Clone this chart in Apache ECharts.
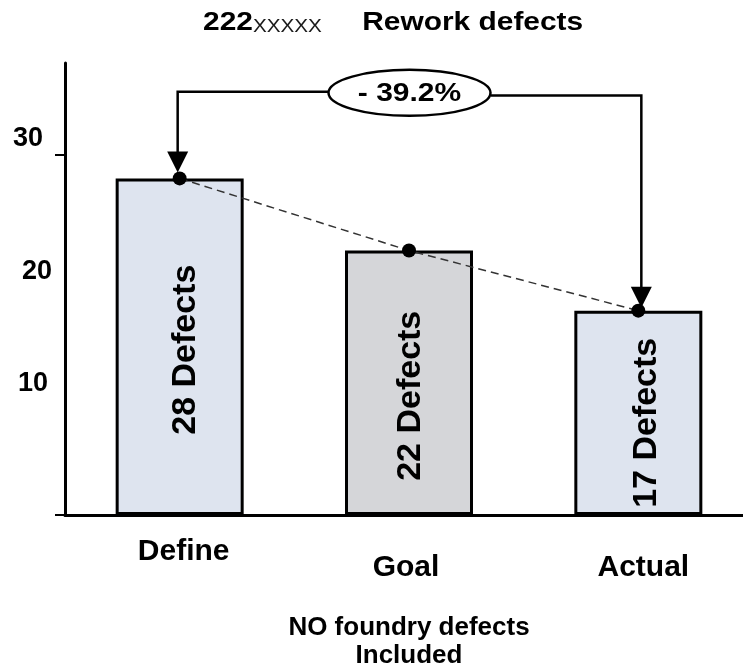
<!DOCTYPE html>
<html>
<head>
<meta charset="utf-8">
<script src="https://cdn.jsdelivr.net/npm/echarts@6/dist/echarts.min.js"></script>
<style>
  html, body { margin: 0; padding: 0; background: #fff; }
  #chart { width: 743px; height: 671px; }
</style>
</head>
<body>
<div id="chart"></div>
<script>
// Rework defects: baseline (Define), target (Goal) and result (Actual)
const categories = ['Define', 'Goal', 'Actual'];
const defects = [28, 22, 17];
const yTickLabels = [10, 20, 30];
const titleCode = '222';
const titleMask = 'XXXXX';
const titleText = 'Rework defects';
const footnote = 'NO foundry defects\nIncluded';

const FONT = '"Liberation Sans", Arial, sans-serif';
const fills = ['#dee4ef', '#d5d6d9', '#dee4ef'];
// rotated-label nudges: [along the text, across the text]
const labelOffsets = [[-3, 6], [-13, 2], [-10, 8]];

const chart = echarts.init(document.getElementById('chart'), null, { renderer: 'canvas' });

const option = {
  backgroundColor: '#ffffff',
  animation: false,
  grid: { left: 65, width: 688, top: 63, bottom: 156, outerBoundsMode: 'none', containLabel: false },
  xAxis: {
    type: 'category',
    data: categories,
    axisLine: { lineStyle: { color: '#000', width: 3 } },
    axisTick: { show: false },
    axisLabel: {
      interval: 0,
      hideOverlap: false,
      margin: 53,
      verticalAlign: 'middle',
      fontFamily: FONT,
      fontSize: 30,
      fontWeight: 'bold',
      color: '#000',
      formatter: v => '{' + v + '|' + v + '}',
      rich: {
        Define: { fontFamily: FONT, fontSize: 30, fontWeight: 'bold', color: '#000', padding: [0, 0, 32, 8] },
        Goal: { fontFamily: FONT, fontSize: 30, fontWeight: 'bold', color: '#000', padding: [0, 6, 0, 0] },
        Actual: { fontFamily: FONT, fontSize: 30, fontWeight: 'bold', color: '#000', padding: [0, 0, 0, 10] }
      }
    },
    name: footnote,
    nameLocation: 'middle',
    nameGap: 99,
    nameTextStyle: {
      fontFamily: FONT, fontSize: 26, fontWeight: 'bold', color: '#000',
      lineHeight: 28, align: 'center', verticalAlign: 'top'
    }
  },
  yAxis: {
    type: 'value',
    min: 0,
    max: 37.6,
    interval: 10,
    splitLine: { show: false },
    axisLine: { show: true, lineStyle: { color: '#000', width: 3 } },
    axisTick: { show: true, customValues: [0, 30], length: 10, lineStyle: { color: '#000', width: 2 } },
    axisLabel: {
      customValues: yTickLabels,
      margin: 13,
      verticalAlign: 'middle',
      fontFamily: FONT, fontSize: 27, fontWeight: 'bold', color: '#000',
      formatter: v => '{t' + v + '|' + v + '}',
      rich: {
        t10: { fontFamily: FONT, fontSize: 27, fontWeight: 'bold', color: '#000', padding: [0, 4, 23, 0] },
        t20: { fontFamily: FONT, fontSize: 27, fontWeight: 'bold', color: '#000', padding: [0, 0, 7, 0] },
        t30: { fontFamily: FONT, fontSize: 27, fontWeight: 'bold', color: '#000', padding: [0, 9, 32, 0] }
      }
    }
  },
  series: [
    {
      type: 'bar',
      barWidth: 128,
      z: 2,
      data: defects.map((v, i) => ({
        value: v,
        itemStyle: { color: fills[i] },
        label: { offset: labelOffsets[i] }
      })),
      itemStyle: { borderColor: '#000', borderWidth: 3 },
      label: {
        show: true,
        position: 'inside',
        rotate: 90,
        formatter: '{c} Defects',
        fontFamily: FONT,
        fontSize: 34,
        fontWeight: 'bold',
        color: '#000'
      }
    },
    {
      type: 'line',
      data: defects,
      z: 4,
      symbol: 'circle',
      symbolSize: 14,
      itemStyle: { color: '#000' },
      lineStyle: { color: '#333', width: 1.5, type: [8, 5] }
    }
  ]
};

chart.setOption(option);

// Bracket from Define down to Actual with the percentage change in an oval
function drawAnnotations() {
  const first = 0, last = defects.length - 1;
  const pStart = chart.convertToPixel({ xAxisIndex: 0, yAxisIndex: 0 }, [first, defects[first]]);
  const pEnd = chart.convertToPixel({ xAxisIndex: 0, yAxisIndex: 0 }, [last, defects[last]]);
  const yLeft = chart.convertToPixel({ yAxisIndex: 0 }, 35.2);
  const yRight = chart.convertToPixel({ yAxisIndex: 0 }, 34.9);
  const xL = pStart[0] - 2, xR = pEnd[0] + 3;
  const tipL = pStart[1] - 6, tipR = pEnd[1] - 3;
  const headH = 21, headW = 21;
  const cx = (xL + xR) / 2, cy = yLeft + 1;
  const rx = 81, ry = 23;
  const change = Math.trunc((defects[last] - defects[first]) / defects[first] * 1000) / 10;
  const changeText = (change < 0 ? '- ' : '+ ') + Math.abs(change).toFixed(1) + '%';
  const line = { stroke: '#000', lineWidth: 2.5, fill: null };

  chart.setOption({
    graphic: [
      {
        type: 'polyline', z: 10,
        shape: { points: [[xL, tipL - headH + 2], [xL, yLeft], [cx - rx, yLeft]] },
        style: line
      },
      {
        type: 'polyline', z: 10,
        shape: { points: [[cx + rx, yRight], [xR, yRight], [xR, tipR - headH + 2]] },
        style: line
      },
      {
        type: 'polygon', z: 10,
        shape: { points: [[xL - headW / 2, tipL - headH], [xL + headW / 2, tipL - headH], [xL, tipL]] },
        style: { fill: '#000' }
      },
      {
        type: 'polygon', z: 10,
        shape: { points: [[xR - headW / 2, tipR - headH], [xR + headW / 2, tipR - headH], [xR, tipR]] },
        style: { fill: '#000' }
      },
      {
        type: 'ellipse', z: 11,
        shape: { cx: cx, cy: cy, rx: rx, ry: ry },
        style: { fill: '#fff', stroke: '#000', lineWidth: 2.5 }
      },
      {
        type: 'text', z: 12,
        x: cx, y: cy + 1,
        scaleX: 1.2,
        style: {
          text: changeText,
          fontFamily: FONT, fontSize: 25, fontWeight: 'bold', fill: '#000',
          align: 'center', verticalAlign: 'middle'
        }
      },
      {
        type: 'text', z: 12,
        x: 203, y: 23,
        scaleX: 1.15,
        style: {
          text: '{a|' + titleCode + '}{b|' + titleMask + '}{c|' + titleText + '}',
          verticalAlign: 'middle',
          align: 'left',
          rich: {
            a: { fontFamily: FONT, fontSize: 26, fontWeight: 'bold', fill: '#000', verticalAlign: 'bottom' },
            b: { fontFamily: FONT, fontSize: 18, fontWeight: 'normal', fill: '#1a1a1a', verticalAlign: 'bottom' },
            c: { fontFamily: FONT, fontSize: 26, fontWeight: 'bold', fill: '#000', verticalAlign: 'bottom', padding: [0, 0, 0, 35] }
          }
        }
      }
    ]
  });
}

drawAnnotations();
</script>
</body>
</html>
